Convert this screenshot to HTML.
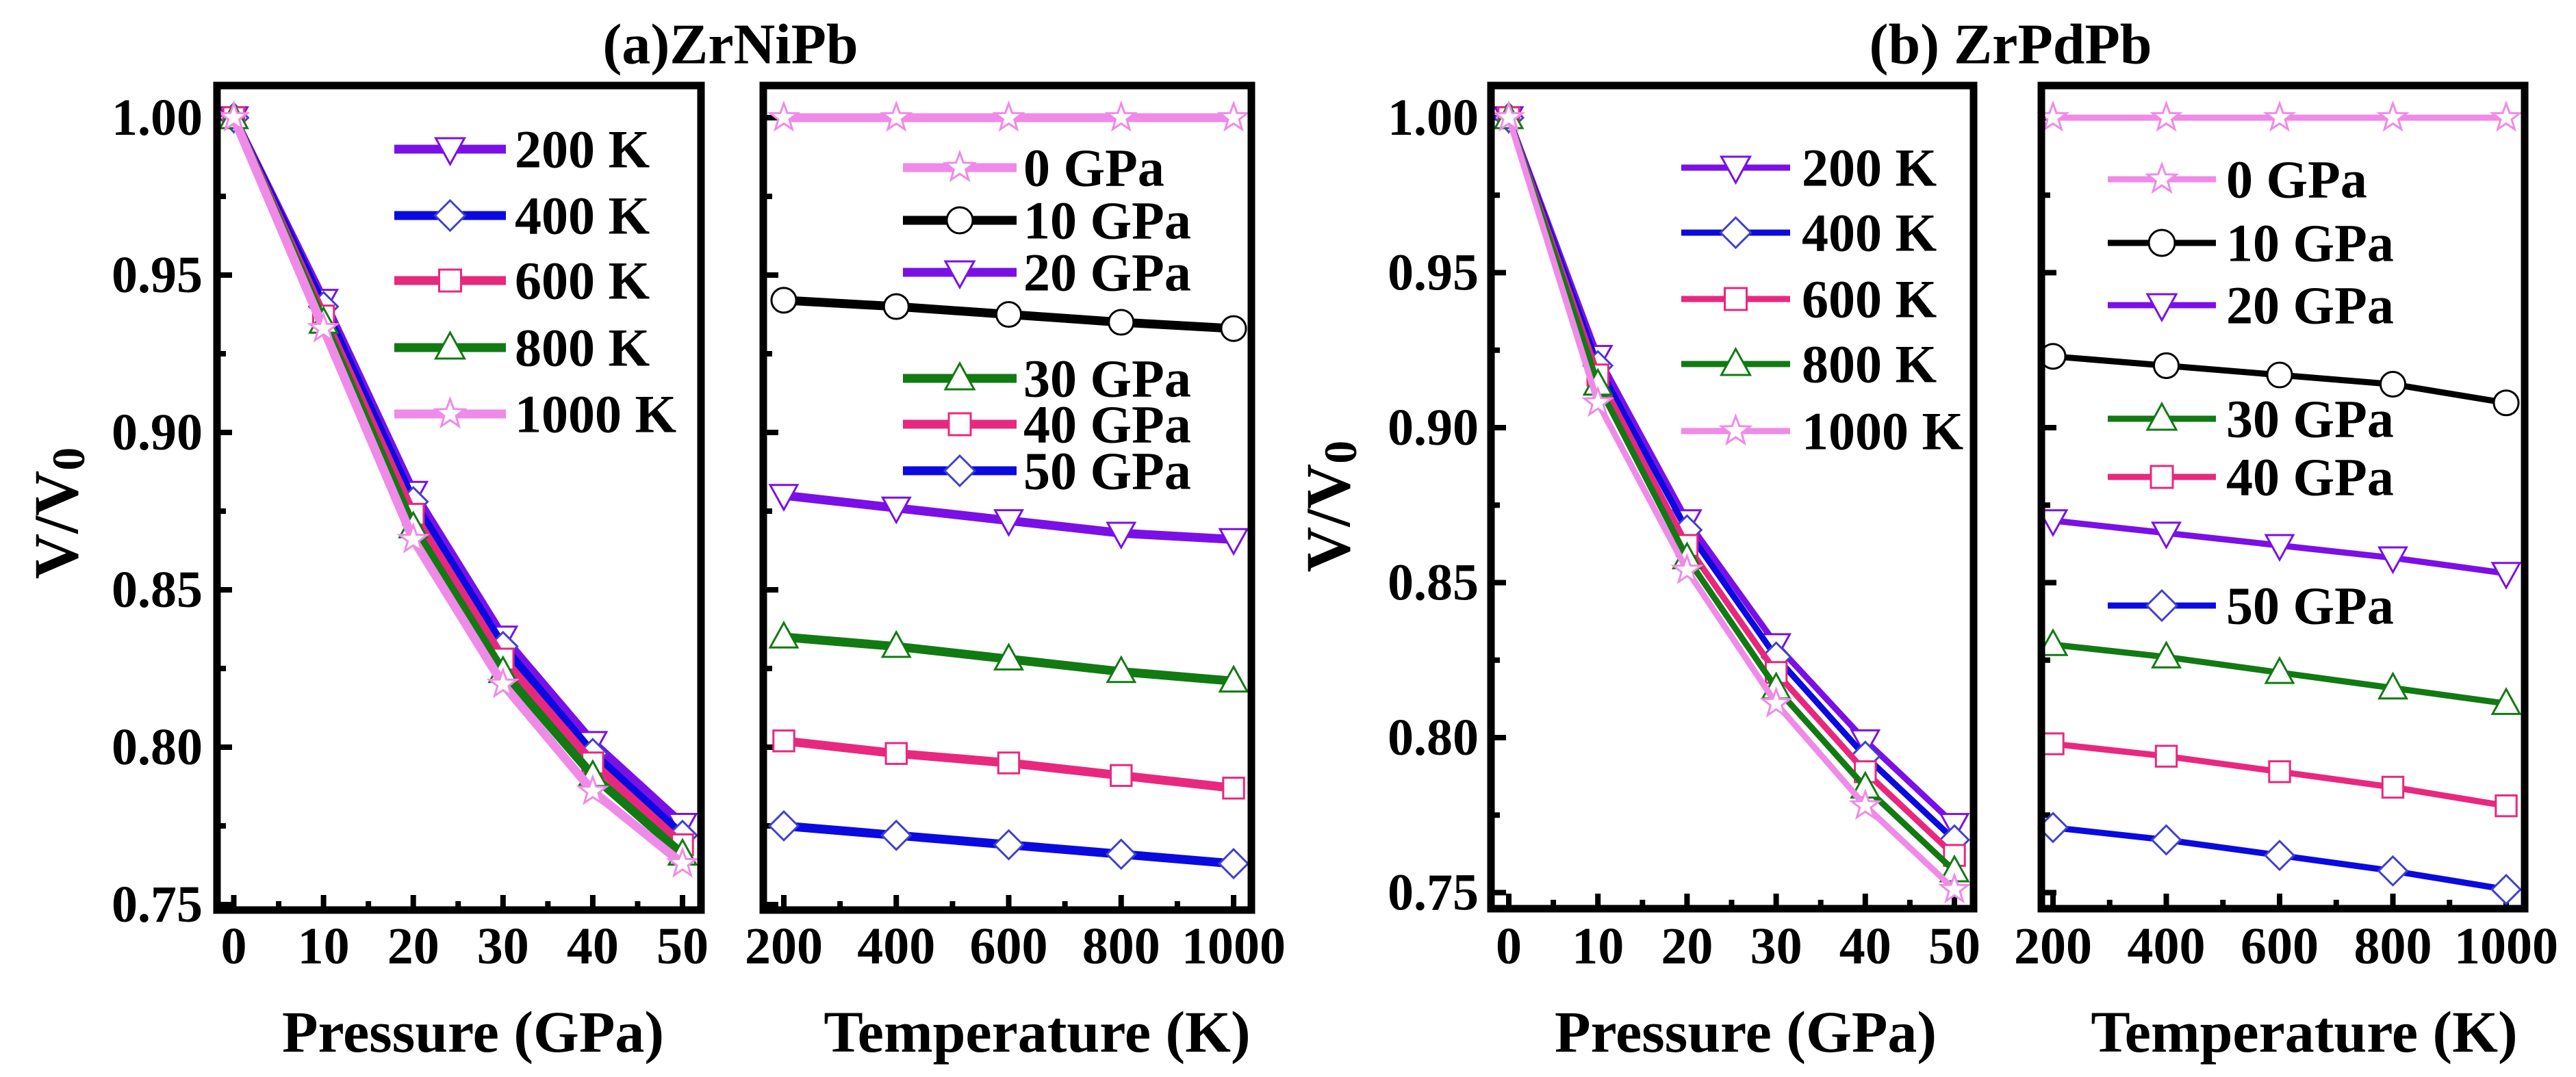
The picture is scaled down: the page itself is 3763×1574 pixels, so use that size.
<!DOCTYPE html>
<html><head><meta charset="utf-8">
<style>
html,body{margin:0;padding:0;background:#fff;}
svg{display:block;}
text{font-family:"Liberation Serif","Times New Roman",serif;font-weight:bold;fill:#000;}
</style></head>
<body>
<svg id="fig" width="3763" height="1574" viewBox="0 0 3763 1574" xmlns="http://www.w3.org/2000/svg"></svg>
<script>
// ---------- data ----------
const pressures = [0, 10, 20, 30, 40, 50];
const temperatures = [200, 400, 600, 800, 1000];
const tempLabels = ["200 K", "400 K", "600 K", "800 K", "1000 K"];
const pressLabels = ["0  GPa", "10 GPa", "20 GPa", "30 GPa", "40 GPa", "50 GPa"];
const yTicks = [0.75, 0.80, 0.85, 0.90, 0.95, 1.00];
const yTickLabels = ["0.75", "0.80", "0.85", "0.90", "0.95", "1.00"];
const pTicks = [0, 10, 20, 30, 40, 50];
const tTicks = [200, 400, 600, 800, 1000];

// ZrNiPb: V/V0 vs pressure for each temperature
const aT200 = [1.0, 0.942, 0.881, 0.835, 0.8015, 0.7755];
const aT400 = [1.0, 0.940, 0.878, 0.832, 0.798, 0.772];
const aT600 = [1.0, 0.937, 0.874, 0.828, 0.795, 0.769];
const aT800 = [1.0, 0.935, 0.870, 0.824, 0.791, 0.766];
const aT1000 = [1.0, 0.933, 0.866, 0.820, 0.786, 0.763];
// ZrNiPb: V/V0 vs temperature for each pressure
const aP0 = [1.0, 1.0, 1.0, 1.0, 1.0];
const aP10 = [0.942, 0.940, 0.9375, 0.935, 0.933];
const aP20 = [0.880, 0.876, 0.872, 0.868, 0.866];
const aP30 = [0.835, 0.832, 0.828, 0.824, 0.821];
const aP40 = [0.802, 0.798, 0.795, 0.791, 0.787];
const aP50 = [0.775, 0.772, 0.769, 0.766, 0.763];

// ZrPdPb
const bT200 = [1.0, 0.923, 0.870, 0.830, 0.799, 0.772];
const bT400 = [1.0, 0.920, 0.867, 0.826, 0.794, 0.767];
const bT600 = [1.0, 0.917, 0.862, 0.821, 0.789, 0.762];
const bT800 = [1.0, 0.914, 0.858, 0.816, 0.784, 0.757];
const bT1000 = [1.0, 0.908, 0.854, 0.811, 0.778, 0.751];
const bP0 = [1.0, 1.0, 1.0, 1.0, 1.0];
const bP10 = [0.923, 0.920, 0.917, 0.914, 0.908];
const bP20 = [0.870, 0.866, 0.862, 0.858, 0.853];
const bP30 = [0.830, 0.826, 0.821, 0.816, 0.811];
const bP40 = [0.798, 0.794, 0.789, 0.784, 0.778];
const bP50 = [0.771, 0.767, 0.762, 0.757, 0.751];

// ---------- styles ----------
const C = {purple:"#7a10e6", blue:"#0a0ae0", pink:"#e8287e", green:"#127a12", lpink:"#f08ae8", black:"#000"};
const tempStyle = [
  {c:C.purple, m:"tri-down"}, {c:C.blue, m:"diamond"}, {c:C.pink, m:"square"},
  {c:C.green, m:"tri-up"}, {c:C.lpink, m:"star"}];
const pressStyle = [
  {c:C.lpink, m:"star"}, {c:C.black, m:"circle"}, {c:C.purple, m:"tri-down"},
  {c:C.green, m:"tri-up"}, {c:C.pink, m:"square"}, {c:C.blue, m:"diamond"}];

const NS = "http://www.w3.org/2000/svg";
const svg = document.getElementById("fig");
function el(tag, attrs, parent){
  const e = document.createElementNS(NS, tag);
  for (const k in attrs) e.setAttribute(k, attrs[k]);
  (parent||svg).appendChild(e);
  return e;
}
function txt(x, y, s, size, anchor, parent){
  const t = el("text", {x:x, y:y, "font-size":size, "text-anchor":anchor||"middle", "dominant-baseline":"central"}, parent);
  t.textContent = s;
  return t;
}
function marker(g, type, x, y, col, r){
  let e;
  const sw = 3;
  const mc = col === C.blue ? "#4040d0" : col;
  if (type === "circle") e = el("circle", {cx:x, cy:y, r:r*0.95, fill:"#fff", stroke:mc, "stroke-width":sw}, g);
  else if (type === "square") e = el("rect", {x:x-r*0.8, y:y-r*0.8, width:r*1.6, height:r*1.6, fill:"#fff", stroke:mc, "stroke-width":sw}, g);
  else if (type === "diamond") e = el("polygon", {points:`${x},${y-r*1.1} ${x+r*1.1},${y} ${x},${y+r*1.1} ${x-r*1.1},${y}`, fill:"#fff", stroke:mc, "stroke-width":sw}, g);
  else if (type === "tri-down") e = el("polygon", {points:`${x-r*1.05},${y-r*0.8} ${x+r*1.05},${y-r*0.8} ${x},${y+r*1.1}`, fill:"#fff", stroke:mc, "stroke-width":sw}, g);
  else if (type === "tri-up") e = el("polygon", {points:`${x-r*1.05},${y+r*0.8} ${x+r*1.05},${y+r*0.8} ${x},${y-r*1.1}`, fill:"#fff", stroke:mc, "stroke-width":sw}, g);
  else {
    let pts = [];
    for (let i=0;i<10;i++){
      const a = -Math.PI/2 + i*Math.PI/5;
      const rr = i%2===0 ? r*1.1 : r*0.45;
      pts.push((x+rr*Math.cos(a)).toFixed(1)+","+(y+rr*Math.sin(a)).toFixed(1));
    }
    e = el("polygon", {points:pts.join(" "), fill:"#fff", stroke:mc, "stroke-width":sw}, g);
  }
  
  
  return e;
}

function makePanel(cfg){
  const g = el("g", {});
  
  
  const xs = v => cfg.x0px + (v - cfg.x0v) * cfg.xk;
  const ys = v => cfg.y1px + (1 - v) * cfg.yk;
  const tg = el("g", {stroke:"#000", "stroke-width":8}, g);
  
  
  for (let i=0;i<cfg.xticks.length;i++){
    const x = xs(cfg.xticks[i]);
    el("line", {x1:x, y1:cfg.bottom, x2:x, y2:cfg.bottom-22}, tg);
    if (i < cfg.xticks.length-1){
      const xm = xs((cfg.xticks[i]+cfg.xticks[i+1])/2);
      el("line", {x1:xm, y1:cfg.bottom, x2:xm, y2:cfg.bottom-13}, tg);
    }
    if (cfg.xlabels){
      const t = txt(x, 1383, cfg.xlabels[i], 76, "middle", g);
      
      
    }
  }
  for (let i=0;i<yTicks.length;i++){
    const y = ys(yTicks[i]);
    el("line", {x1:cfg.left, y1:y, x2:cfg.left+22, y2:y}, tg);
    if (i < yTicks.length-1){
      const ym = ys((yTicks[i]+yTicks[i+1])/2);
      el("line", {x1:cfg.left, y1:ym, x2:cfg.left+13, y2:ym}, tg);
    }
    if (cfg.ylabelsX){
      const t = txt(cfg.ylabelsX, y, yTickLabels[i], 76, "end", g);
      
      
    }
  }
  cfg.series.forEach((s, si) => {
    const sg = el("g", {}, g);
    
    
    const pts = s.vals.map((v,i) => xs(cfg.xv[i]).toFixed(1)+","+ys(v).toFixed(1)).join(" ");
    const pl = el("polyline", {points:pts, fill:"none", stroke:s.c, "stroke-width":cfg.lw, "stroke-linejoin":"round"}, sg);
    
    
    s.vals.forEach((v,i) => marker(sg, s.m, xs(cfg.xv[i]), ys(v), s.c, 19));
  });
  const box = el("rect", {x:cfg.left, y:cfg.top, width:cfg.right-cfg.left, height:cfg.bottom-cfg.top, fill:"none", stroke:"#000", "stroke-width":11}, g);
  
  
  const lg = el("g", {}, g);
  
  
  cfg.legend.rows.forEach((y, i) => {
    const s = cfg.legend.styles[i];
    const eg = el("g", {}, lg);
    
    
    el("line", {x1:cfg.legend.x1, y1:y, x2:cfg.legend.x2, y2:y, stroke:s.c, "stroke-width":cfg.lw}, eg);
    marker(eg, s.m, (cfg.legend.x1+cfg.legend.x2)/2, y, s.c, 20);
    txt(cfg.legend.tx, y, cfg.legend.labels[i], 78, "start", eg);
  });
}

function tempSeries(arrs){ return arrs.map((a,i)=>({vals:a, c:tempStyle[i].c, m:tempStyle[i].m})); }
function pressSeries(arrs){ return arrs.map((a,i)=>({vals:a, c:pressStyle[i].c, m:pressStyle[i].m})); }

makePanel({name:"zrnipb-pressure-panel", left:317, right:1024, top:125, bottom:1330,
  x0v:0, x0px:341.5, xk:13.11, y1px:172, yk:4600, lw:13,
  xticks:pTicks, xlabels:pTicks.map(String), xv:pressures, ylabelsX:296,
  series:tempSeries([aT200,aT400,aT600,aT800,aT1000]),
  legend:{x1:576, x2:739, tx:752, rows:[218,315,410,508,605], labels:tempLabels, styles:tempStyle}});
makePanel({name:"zrnipb-temperature-panel", left:1115, right:1828, top:125, bottom:1330,
  x0v:200, x0px:1145, xk:0.8213, y1px:172, yk:4600, lw:13,
  xticks:tTicks, xlabels:tTicks.map(String), xv:temperatures, ylabelsX:null,
  series:pressSeries([aP0,aP10,aP20,aP30,aP40,aP50]),
  legend:{x1:1319, x2:1485, tx:1495, rows:[245,322,398,553,620,688], labels:pressLabels, styles:pressStyle}});
makePanel({name:"zrpdpb-pressure-panel", left:2178, right:2883, top:125, bottom:1328,
  x0v:0, x0px:2204, xk:13.02, y1px:172, yk:4530, lw:9,
  xticks:pTicks, xlabels:pTicks.map(String), xv:pressures, ylabelsX:2160,
  series:tempSeries([bT200,bT400,bT600,bT800,bT1000]),
  legend:{x1:2456, x2:2615, tx:2632, rows:[245,340,437,532,630], labels:tempLabels, styles:tempStyle}});
makePanel({name:"zrpdpb-temperature-panel", left:2982, right:3688, top:125, bottom:1328,
  x0v:200, x0px:2999, xk:0.8275, y1px:172, yk:4530, lw:9,
  xticks:tTicks, xlabels:tTicks.map(String), xv:temperatures, ylabelsX:null,
  series:pressSeries([bP0,bP10,bP20,bP30,bP40,bP50]),
  legend:{x1:3079, x2:3237, tx:3252, rows:[262,355,446,612,697,885], labels:["0 GPa","10 GPa","20 GPa","30 GPa","40 GPa","50 GPa"], styles:pressStyle}});

function label(x,y,s,size,name,rot){
  const t = txt(x,y,s,size,"middle");
  if (rot) t.setAttribute("transform", `rotate(-90 ${x} ${y})`);
  
  
  return t;
}
label(1067, 65, "(a)ZrNiPb", 84, "title-a");
label(2937, 65, "(b) ZrPdPb", 84, "title-b");
label(691, 1508, "Pressure (GPa)", 86, "x-axis-title-pressure-a");
label(1515, 1508, "Temperature (K)", 86, "x-axis-title-temperature-a");
label(2550, 1508, "Pressure (GPa)", 86, "x-axis-title-pressure-b");
label(3366, 1508, "Temperature (K)", 86, "x-axis-title-temperature-b");
function ytitle(x, y, name){
  const t = el("text", {x:x, y:y, "font-size":92, "text-anchor":"middle", "dominant-baseline":"central", transform:`rotate(-90 ${x} ${y})`});
  
  
  t.appendChild(document.createTextNode("V/V"));
  const s = el("tspan", {"font-size":68, dy:18}, t);
  s.textContent = "0";
}
ytitle(82, 750, "y-axis-title-a");
ytitle(1940, 740, "y-axis-title-b");
</script>
</body></html>
